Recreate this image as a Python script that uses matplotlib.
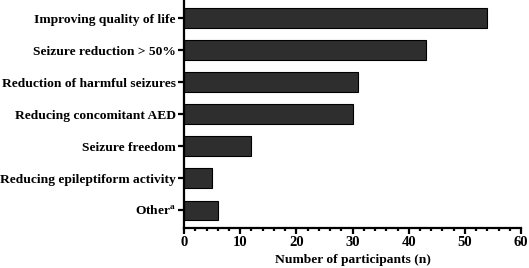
import matplotlib
matplotlib.use("Agg")
import matplotlib.pyplot as plt
from matplotlib.ticker import MultipleLocator

categories = [
    "Improving quality of life",
    "Seizure reduction > 50%",
    "Reduction of harmful seizures",
    "Reducing concomitant AED",
    "Seizure freedom",
    "Reducing epileptiform activity",
    "Other$^{\\mathbf{a}}$",
]
participants = [54, 43, 31, 30, 12, 5, 6]

plt.rcParams["font.family"] = "Liberation Serif"
plt.rcParams["font.weight"] = "bold"
plt.rcParams["mathtext.fontset"] = "custom"
plt.rcParams["mathtext.bf"] = "Liberation Serif:bold"
plt.rcParams["mathtext.rm"] = "Liberation Serif:bold"

fig = plt.figure(figsize=(5.29, 2.68), dpi=100)
ax = fig.add_axes([0.348, 0.149, 0.637, 0.849])

y = list(range(len(categories)))
ax.barh(y, participants, height=0.62, color="#2e2e2e", edgecolor="black", linewidth=0.8)

ax.set_yticks(y)
ax.set_yticklabels(categories, fontsize=9.7, fontweight="bold")
ax.set_ylim(6.55, -0.55)
ax.set_xlim(0, 60)
ax.xaxis.set_major_locator(MultipleLocator(10))
ax.xaxis.set_minor_locator(MultipleLocator(2))
ax.set_xlabel("Number of participants (n)", fontsize=9.7, fontweight="bold", labelpad=3)

for lbl in ax.get_xticklabels():
    lbl.set_fontweight("bold")
    lbl.set_fontsize(10.5)

for side in ["top", "right"]:
    ax.spines[side].set_visible(False)
for side in ["left", "bottom"]:
    ax.spines[side].set_linewidth(1.6)

ax.tick_params(axis="both", which="major", width=1.6, length=4, direction="out", pad=2)
ax.tick_params(axis="x", which="minor", width=1.6, length=2.5, direction="out")

fig.savefig("out.png", dpi=100)
